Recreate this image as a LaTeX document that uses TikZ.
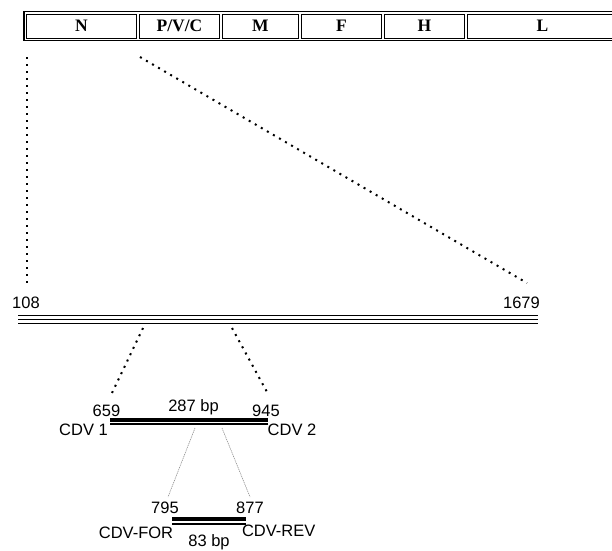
\documentclass[tikz,border=0pt]{standalone}
\usepackage{fontspec}
\setmainfont{Liberation Serif}
\setsansfont{Liberation Sans}
\usetikzlibrary{positioning,fit}

\begin{document}
\begin{tikzpicture}[
  x=1pt, y=-1pt,
  gene/.style={draw, line width=0.9pt, minimum height=24pt, inner sep=0pt, outer sep=0pt, font=\bfseries\fontsize{17.5}{17.5}\selectfont},
  frame/.style={draw, line width=1.5pt, inner sep=2.4pt},
  dots/.style={line width=2pt, dash pattern=on 2pt off 5pt},
  faint/.style={draw=black!45, line width=0.6pt, dash pattern=on 1.2pt off 0.8pt},
  strand/.style={line width=1.4pt},
  thickstrand/.style={line width=3.8pt},
  thinstrand/.style={line width=1.7pt},
  num/.style={font=\sffamily\fontsize{16.5}{16.5}\selectfont, inner sep=0pt},
  bar/.style={inner sep=0pt, outer sep=0pt}
]
\useasboundingbox (0,0) rectangle (612,550);

% genome map
\node[gene, minimum width=110pt, anchor=west] (segN) at (26.5,26) {N};
\node[gene, minimum width=80pt, right=3pt of segN] (segP) {P/V/C};
\node[gene, minimum width=76pt, right=3pt of segP] (segM) {M};
\node[gene, minimum width=80pt, right=3pt of segM] (segF) {F};
\node[gene, minimum width=80pt, right=3pt of segF] (segH) {H};
\node[gene, minimum width=150pt, right=3pt of segH] (segL) {L};
\node[frame, fit=(segN)(segL)] (genome) {};

% N gene fragment
\node[bar, minimum width=520pt, minimum height=8.3pt] (fragment) at (278,319.4) {};
\draw[strand] (fragment.north west) -- (fragment.north east);
\draw[strand] (fragment.west) -- (fragment.east);
\draw[strand] (fragment.south west) -- (fragment.south east);
\node[num, anchor=base west] (startnum) at (12,308.5) {108};
\node[num, anchor=base east] (endnum) at (540,308.5) {1679};

\coordinate (zoomA1) at (27,57);
\coordinate (zoomA2) at (27,287);
\coordinate (zoomB1) at (140,57);
\coordinate (zoomB2) at (527,283);
\draw[dots] (zoomA1) -- (zoomA2);
\draw[dots] (zoomB1) -- (zoomB2);

% first PCR product
\node[bar, minimum width=158pt, minimum height=4.6pt] (pcrA) at (189,422) {};
\draw[thickstrand] (pcrA.north west) -- (pcrA.north east);
\draw[thinstrand] (pcrA.south west) -- (pcrA.south east);
\node[num, anchor=base] (posA) at (106.5,416.7) {659};
\node[num, anchor=base] (sizeA) at (193.5,411.5) {287 bp};
\node[num, anchor=base] (posB) at (266,416.7) {945};
\node[num, anchor=base] (primA) at (83.5,435.5) {CDV 1};
\node[num, anchor=base] (primB) at (292,435.5) {CDV 2};

\coordinate (zoomC1) at (143,328);
\coordinate (zoomC2) at (112,393);
\coordinate (zoomD1) at (232,328);
\coordinate (zoomD2) at (267,392);
\draw[dots] (zoomC1) -- (zoomC2);
\draw[dots] (zoomD1) -- (zoomD2);

% nested PCR product
\node[bar, minimum width=74pt, minimum height=4.5pt] (pcrB) at (209,521.4) {};
\draw[thickstrand, line width=3.5pt] (pcrB.north west) -- (pcrB.north east);
\draw[thinstrand] (pcrB.south west) -- (pcrB.south east);
\node[num, anchor=base] (posC) at (165,513) {795};
\node[num, anchor=base] (posD) at (250,513) {877};
\node[num, anchor=base] (primC) at (136,538) {CDV-FOR};
\node[num, anchor=base] (primD) at (278.7,536) {CDV-REV};
\node[num, anchor=base] (sizeB) at (209,546.3) {83 bp};

\coordinate (zoomE1) at (195,428);
\coordinate (zoomE2) at (168,497);
\coordinate (zoomF1) at (222,428);
\coordinate (zoomF2) at (250,497);
\draw[faint] (zoomE1) -- (zoomE2);
\draw[faint] (zoomF1) -- (zoomF2);

\end{tikzpicture}
\end{document}
